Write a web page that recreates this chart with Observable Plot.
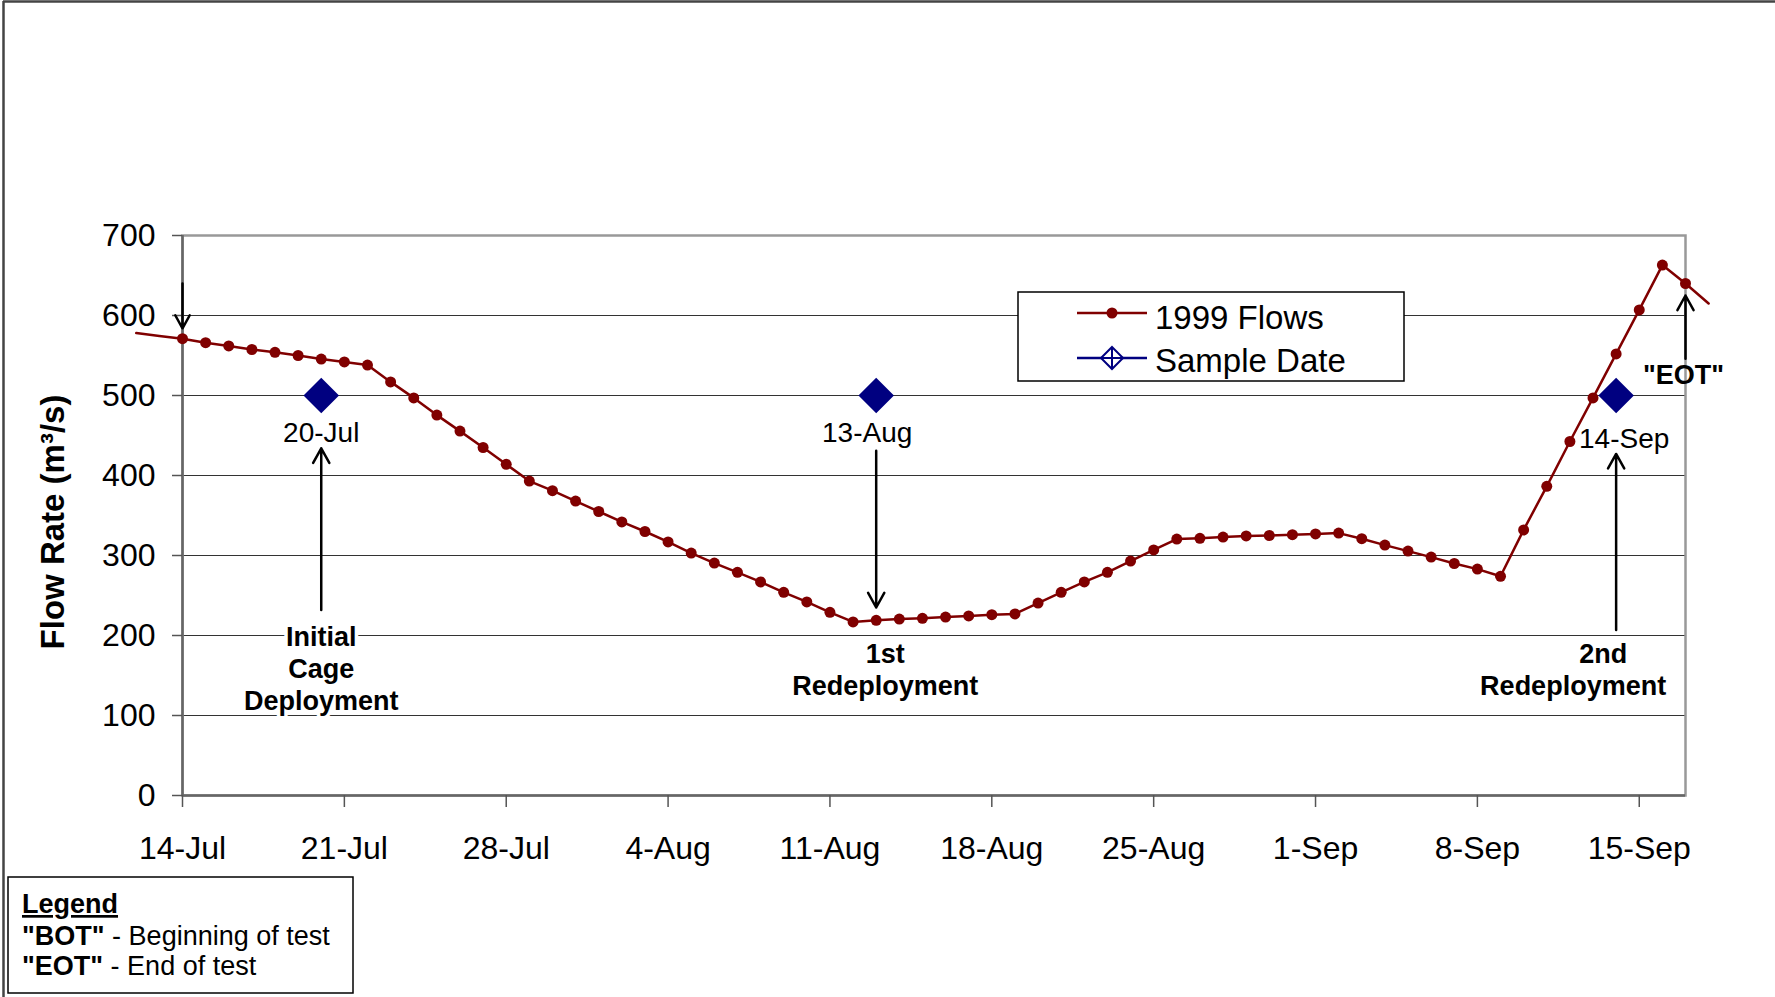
<!DOCTYPE html>
<html>
<head>
<meta charset="utf-8">
<script src="https://cdn.jsdelivr.net/npm/d3@7"></script>
<script src="https://cdn.jsdelivr.net/npm/@observablehq/plot@0.6"></script>
<style>
  html, body { margin: 0; padding: 0; background: white; }
  svg { display: block; }
</style>
</head>
<body>
<div id="chart"></div>
<script>
// ---------- data ----------
const flowStart = "1999-07-12";   // first day of the flow record (daily values)
const flowValues = [
  578, 574.5,                                           // Jul 12-13 (line only)
  571, 566, 562, 557.5, 554, 550, 545.5, 542, 538,      // Jul 14-22
  517, 497, 475.5, 455.5, 435, 414, 393, 381, 368,      // Jul 23-31
  355, 342, 330, 317, 303, 290.5, 279, 267, 254, 242,   // Aug 1-10
  229, 217, 219, 220.5, 221.5, 223, 224.5, 226, 227,    // Aug 11-19
  240.5, 254, 267, 279, 293, 307, 320.5, 321.5, 323,    // Aug 20-28
  324.5, 325, 326,                                      // Aug 29-31
  327, 328, 321, 313, 305.5, 298, 290, 283, 274,        // Sep 1-9
  332, 386.5, 442.5, 497, 552, 607, 663, 640,           // Sep 10-17
  615                                                   // Sep 18 (line only)
];
const axisStart = "1999-07-14";
const axisEnd = "1999-09-17";
const sampleDates = ["1999-07-20", "1999-08-13", "1999-09-14"];
const sampleValue = 500;
const xTickDates = ["1999-07-14","1999-07-21","1999-07-28","1999-08-04","1999-08-11",
                    "1999-08-18","1999-08-25","1999-09-01","1999-09-08","1999-09-15"];
const yTicks = [0, 100, 200, 300, 400, 500, 600, 700];

// annotation arrows: date, start value, tip value
const arrowDates = ["1999-07-14", "1999-07-20", "1999-08-13", "1999-09-14", "1999-09-17"];
const arrowFrom  = [640, 232, 431, 207, 546];
const arrowTo    = [584, 434, 235, 427, 625];

// bold annotation text lines
const noteText  = ["Initial", "Cage", "Deployment", "1st", "Redeployment", "2nd", "Redeployment", "\"EOT\""];
const noteDates = ["1999-07-20","1999-07-20","1999-07-20","1999-08-13","1999-08-13","1999-09-14","1999-09-14","1999-09-17"];
const noteValues = [197.5, 157.5, 117.5, 176, 136, 176, 136, 525];
const noteShift = [0, 0, 0, 9, 9, -13, -43, -2];
const noteHalo = [true, true, true, false, false, false, false, false];

const sampleLabelValues = [452.5, 452.5, 446];
const sampleLabelShift = [0, -9, 8];

// ---------- build tables ----------
const parse = d3.utcParse("%Y-%m-%d");
const fmt = d3.utcFormat("%-d-%b");
const d0 = parse(flowStart);
const flows = flowValues.map((v, i) => ({date: d3.utcDay.offset(d0, i), value: v}));
const x0 = parse(axisStart), x1 = parse(axisEnd);
const flowDots = flows.filter(d => d.date >= x0 && d.date <= x1);
const samples = sampleDates.map((s, i) => ({date: parse(s), value: sampleValue, lv: sampleLabelValues[i], dx: sampleLabelShift[i]}));
const arrows = arrowDates.map((s, i) => ({date: parse(s), from: arrowFrom[i], to: arrowTo[i]}));
const notes = noteText.map((t, i) => ({text: t, date: parse(noteDates[i]), value: noteValues[i], dx: noteShift[i], halo: noteHalo[i]}));

const FONT = "'Liberation Sans', Arial, Helvetica, sans-serif";
const RED = "#800000", NAVY = "#000080";

const haloNotes = notes.filter(n => n.halo).map(n =>
  Plot.text([n], {x: "date", y: "value", text: "text", dx: n.dx, fontSize: 27, fontWeight: "bold",
                  stroke: "white", strokeWidth: 7, fill: "black"}));
const plainNotes = notes.filter(n => !n.halo).map(n =>
  Plot.text([n], {x: "date", y: "value", text: "text", dx: n.dx, fontSize: 27, fontWeight: "bold", fill: "black"}));
const sampleLabels = samples.map(d =>
  Plot.text([d], {x: "date", y: "lv", dx: d.dx, text: e => fmt(e.date), fontSize: 28, fill: "black"}));

const svg = Plot.plot({
  width: 1775, height: 997,
  marginLeft: 182, marginRight: 90, marginTop: 235, marginBottom: 202,
  style: {fontFamily: FONT, background: "white", color: "black", overflow: "visible"},
  x: {type: "utc", domain: [x0, x1]},
  y: {domain: [0, 700]},
  marks: [
    Plot.ruleY(yTicks.filter(v => v > 0 && v < 700), {stroke: "#333", strokeWidth: 1.2}),
    Plot.frame({stroke: "#999", strokeWidth: 2.5}),
    Plot.ruleX([x0], {stroke: "#666", strokeWidth: 2.5}),
    Plot.ruleY([0], {stroke: "#666", strokeWidth: 2.5}),
    Plot.axisX({ticks: xTickDates.map(parse), tickFormat: fmt, tickSize: 12, tickPadding: 29,
                fontSize: 32, stroke: "#555", strokeWidth: 1.5, label: null}),
    Plot.axisY({ticks: yTicks, tickSize: 10, tickPadding: 17, fontSize: 32,
                stroke: "#555", strokeWidth: 1.5, label: null}),
    ...haloNotes,
    Plot.line(flows, {x: "date", y: "value", stroke: RED, strokeWidth: 2.5, clip: false}),
    Plot.dot(flowDots, {x: "date", y: "value", r: 5.5, fill: RED}),
    Plot.dot(samples, {x: "date", y: "value", symbol: "diamond2", r: 16, fill: NAVY}),
    ...sampleLabels,
    ...plainNotes,
    Plot.arrow(arrows, {x: "date", y1: "from", y2: "to", stroke: "black", strokeWidth: 2.5,
                headLength: 10, headAngle: 58, bend: 0})
  ]
});

const s = d3.select(svg);
// outer chart border (top and left)
s.append("line").attr("x1", 3).attr("x2", 1775).attr("y1", 1.5).attr("y2", 1.5)
  .attr("stroke", "#444").attr("stroke-width", 2.5);
s.append("line").attr("x1", 3.5).attr("x2", 3.5).attr("y1", 1).attr("y2", 997)
  .attr("stroke", "#444").attr("stroke-width", 2.5);

// y-axis title
s.append("text").attr("transform", "translate(64,522) rotate(-90)")
  .attr("text-anchor", "middle").attr("font-family", FONT).attr("font-size", 33)
  .attr("font-weight", "bold").attr("fill", "black").text("Flow Rate (m³/s)");

// series legend
const lg = s.append("g").attr("text-anchor", "start").attr("font-family", FONT);
lg.append("rect").attr("x", 1018).attr("y", 292).attr("width", 386).attr("height", 89)
  .attr("fill", "white").attr("stroke", "black").attr("stroke-width", 1.5);
lg.append("line").attr("x1", 1077).attr("x2", 1147).attr("y1", 313).attr("y2", 313)
  .attr("stroke", RED).attr("stroke-width", 2.5);
lg.append("circle").attr("cx", 1112).attr("cy", 313).attr("r", 5.5).attr("fill", RED);
lg.append("text").attr("x", 1155).attr("y", 329).attr("font-size", 33)
  .attr("fill", "black").text("1999 Flows");
lg.append("line").attr("x1", 1077).attr("x2", 1147).attr("y1", 358).attr("y2", 358)
  .attr("stroke", NAVY).attr("stroke-width", 2.5);
lg.append("path").attr("d", "M1112,347L1123,358L1112,369L1101,358Z M1112,347V369 M1101,358H1123")
  .attr("fill", "white").attr("stroke", NAVY).attr("stroke-width", 2);
lg.append("text").attr("x", 1155).attr("y", 372).attr("font-size", 33)
  .attr("fill", "black").text("Sample Date");

// BOT / EOT legend
const lb = s.append("g").attr("font-family", FONT).attr("font-size", 27).attr("fill", "black")
  .attr("text-anchor", "start");
lb.append("rect").attr("x", 8).attr("y", 877).attr("width", 345).attr("height", 116)
  .attr("fill", "white").attr("stroke", "black").attr("stroke-width", 1.5);
lb.append("text").attr("x", 22).attr("y", 913).attr("font-weight", "bold")
  .attr("text-decoration", "underline").text("Legend");
const t1 = lb.append("text").attr("x", 22).attr("y", 945);
t1.append("tspan").attr("font-weight", "bold").text("\"BOT\"");
t1.append("tspan").text(" - Beginning of test");
const t2 = lb.append("text").attr("x", 22).attr("y", 975);
t2.append("tspan").attr("font-weight", "bold").text("\"EOT\"");
t2.append("tspan").text(" - End of test");

document.getElementById("chart").appendChild(svg);
</script>
</body>
</html>
